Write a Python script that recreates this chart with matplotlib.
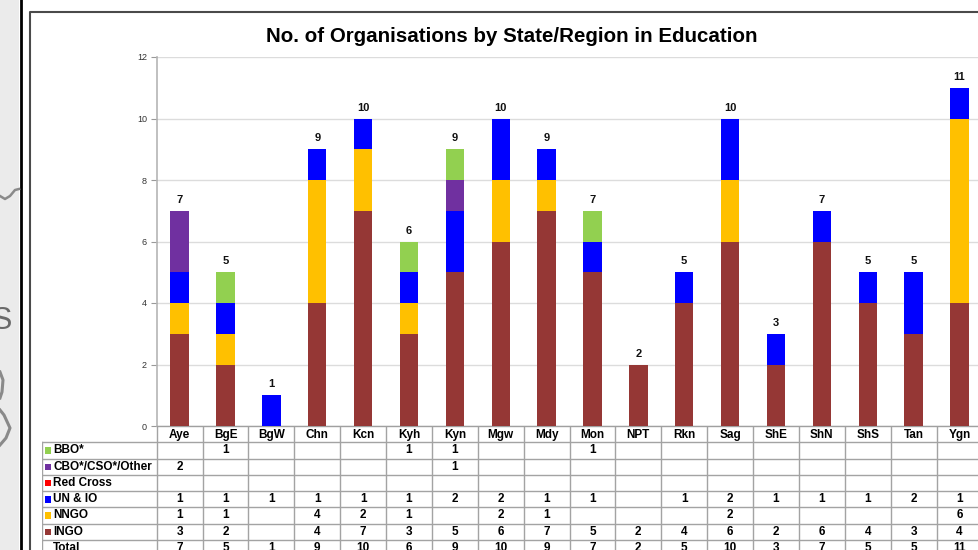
import matplotlib.pyplot as plt
from matplotlib.patches import Rectangle
import numpy as np

plt.rcParams['font.family'] = ['Liberation Sans', 'DejaVu Sans']

regions = ['Aye', 'BgE', 'BgW', 'Chn', 'Kcn', 'Kyh', 'Kyn', 'Mgw', 'Mdy', 'Mon',
           'NPT', 'Rkn', 'Sag', 'ShE', 'ShN', 'ShS', 'Tan', 'Ygn']

ingo = [3, 2, 0, 4, 7, 3, 5, 6, 7, 5, 2, 4, 6, 2, 6, 4, 3, 4]
nngo = [1, 1, 0, 4, 2, 1, 0, 2, 1, 0, 0, 0, 2, 0, 0, 0, 0, 6]
un_io = [1, 1, 1, 1, 1, 1, 2, 2, 1, 1, 0, 1, 2, 1, 1, 1, 2, 1]
red_cross = [0] * 18
cbo = [2, 0, 0, 0, 0, 0, 1, 0, 0, 0, 0, 0, 0, 0, 0, 0, 0, 0]
bbo = [0, 1, 0, 0, 0, 1, 1, 0, 0, 1, 0, 0, 0, 0, 0, 0, 0, 0]

# bottom to top stacking order
series = [('INGO', ingo, '#953735'),
          ('NNGO', nngo, '#FFC000'),
          ('UN & IO', un_io, '#0000FF'),
          ('Red Cross', red_cross, '#FF0000'),
          ('CBO*/CSO*/Other', cbo, '#7030A0'),
          ('BBO*', bbo, '#92D050')]

W, H = 979, 550
fig = plt.figure(figsize=(W / 100, H / 100), dpi=100)

# slide background bits
bg = fig.add_axes([0, 0, 1, 1], zorder=0)
bg.set_xlim(0, W)
bg.set_ylim(H, 0)
bg.axis('off')
bg.add_patch(Rectangle((0, 0), 19.5, H, color='#ebebeb', lw=0))
bg.plot([20.8, 20.8], [0, H], color='black', lw=2.0)
bg.plot([30.5, 30.5, W + 5], [H + 5, 12, 12], color='#4a4a4a', lw=1.5)
bg.plot([0, 5, 10, 15, 19], [196, 199, 196, 190, 189], color='#8a8a8a', lw=1.8)
bg.plot([0, 3, 2, 0], [372, 380, 392, 398], color='#8a8a8a', lw=2.2)
bg.plot([0, 4, 10, 6, 0], [410, 415, 428, 438, 445], color='#8a8a8a', lw=2.2)
bg.text(12, 321, 'S', fontsize=22, color='#6a6a6a', ha='right', va='center')

x0, x1 = 156.7, 982.4
y0, y1 = 426, 57
ax = fig.add_axes([x0 / W, (H - y0) / H, (x1 - x0) / W, (y0 - y1) / H], zorder=2)
ax.patch.set_alpha(0)

x = np.arange(len(regions))
bottom = np.zeros(len(regions))
for name, vals, col in series:
    ax.bar(x, vals, width=0.4, bottom=bottom, color=col, lw=0, zorder=3)
    bottom += np.array(vals)

totals = bottom
for i, t in enumerate(totals):
    ax.text(i, t + 0.35, str(int(t)), ha='center', va='center',
            fontsize=8, fontweight='bold', color='#111111')

ax.set_xlim(-0.5, len(regions) - 0.5)
ax.set_ylim(0, 12)
ax.set_yticks(range(0, 13, 2))
ax.yaxis.grid(True, color='#dcdcdc', lw=1)
ax.set_axisbelow(True)
ax.set_xticks([])
ax.tick_params(axis='y', length=4, color='#999999', labelsize=6.5, labelcolor='#333333', pad=3)
for s in ['top', 'right']:
    ax.spines[s].set_visible(False)
ax.spines['left'].set_color('#b5b5b5')
ax.spines['left'].set_linewidth(1.2)
ax.spines['bottom'].set_color('#a0a0a0')
ax.spines['bottom'].set_linewidth(1)

# data table under the chart
colw = (x1 - x0) / len(regions)
rowh = 16.27
tx0 = 41.7
left_units = (x0 - tx0) / colw
tax = fig.add_axes([tx0 / W, (H - (y0 + 8 * rowh)) / H, (x1 - tx0) / W, 8 * rowh / H], zorder=1)
tax.set_xlim(-0.5 - left_units, len(regions) - 0.5)
tax.set_ylim(8, 0)
tax.axis('off')

lc = '#a3a3a3'
for k in range(len(regions) + 1):
    tax.plot([k - 0.5, k - 0.5], [0, 8], color=lc, lw=1.0)
tax.plot([-0.5 - left_units] * 2, [1, 8], color=lc, lw=1.0)
for r in range(1, 8):
    tax.plot([-0.5 - left_units, len(regions) - 0.5], [r, r], color=lc, lw=1.0)

fs = 8.5
for i, reg in enumerate(regions):
    tax.text(i, 0.55, reg, ha='center', va='center', fontsize=fs, fontweight='bold')

rows = list(reversed(series))
lx = -0.5 - left_units
for r, (name, vals, col) in enumerate(rows):
    yc = r + 1.5
    tax.add_patch(Rectangle((lx + 3.3 / colw, yc - 3 / rowh), 6.5 / colw, 6.5 / rowh,
                            color=col, lw=0))
    tax.text(lx + 11.5 / colw, yc, name, ha='left', va='center',
             fontsize=fs, fontweight='bold')
    for i, v in enumerate(vals):
        if v:
            tax.text(i, yc, str(v), ha='center', va='center', fontsize=fs, fontweight='bold')

tax.text(lx + 11.5 / colw, 7.5, 'Total', ha='left', va='center', fontsize=fs, fontweight='bold')
for i, t in enumerate(totals):
    tax.text(i, 7.5, str(int(t)), ha='center', va='center', fontsize=fs, fontweight='bold')

fig.text(512 / W, (H - 36) / H, 'No. of Organisations by State/Region in Education',
         ha='center', va='center', fontsize=14.8, fontweight='bold')

fig.savefig('out.png', dpi=100)
